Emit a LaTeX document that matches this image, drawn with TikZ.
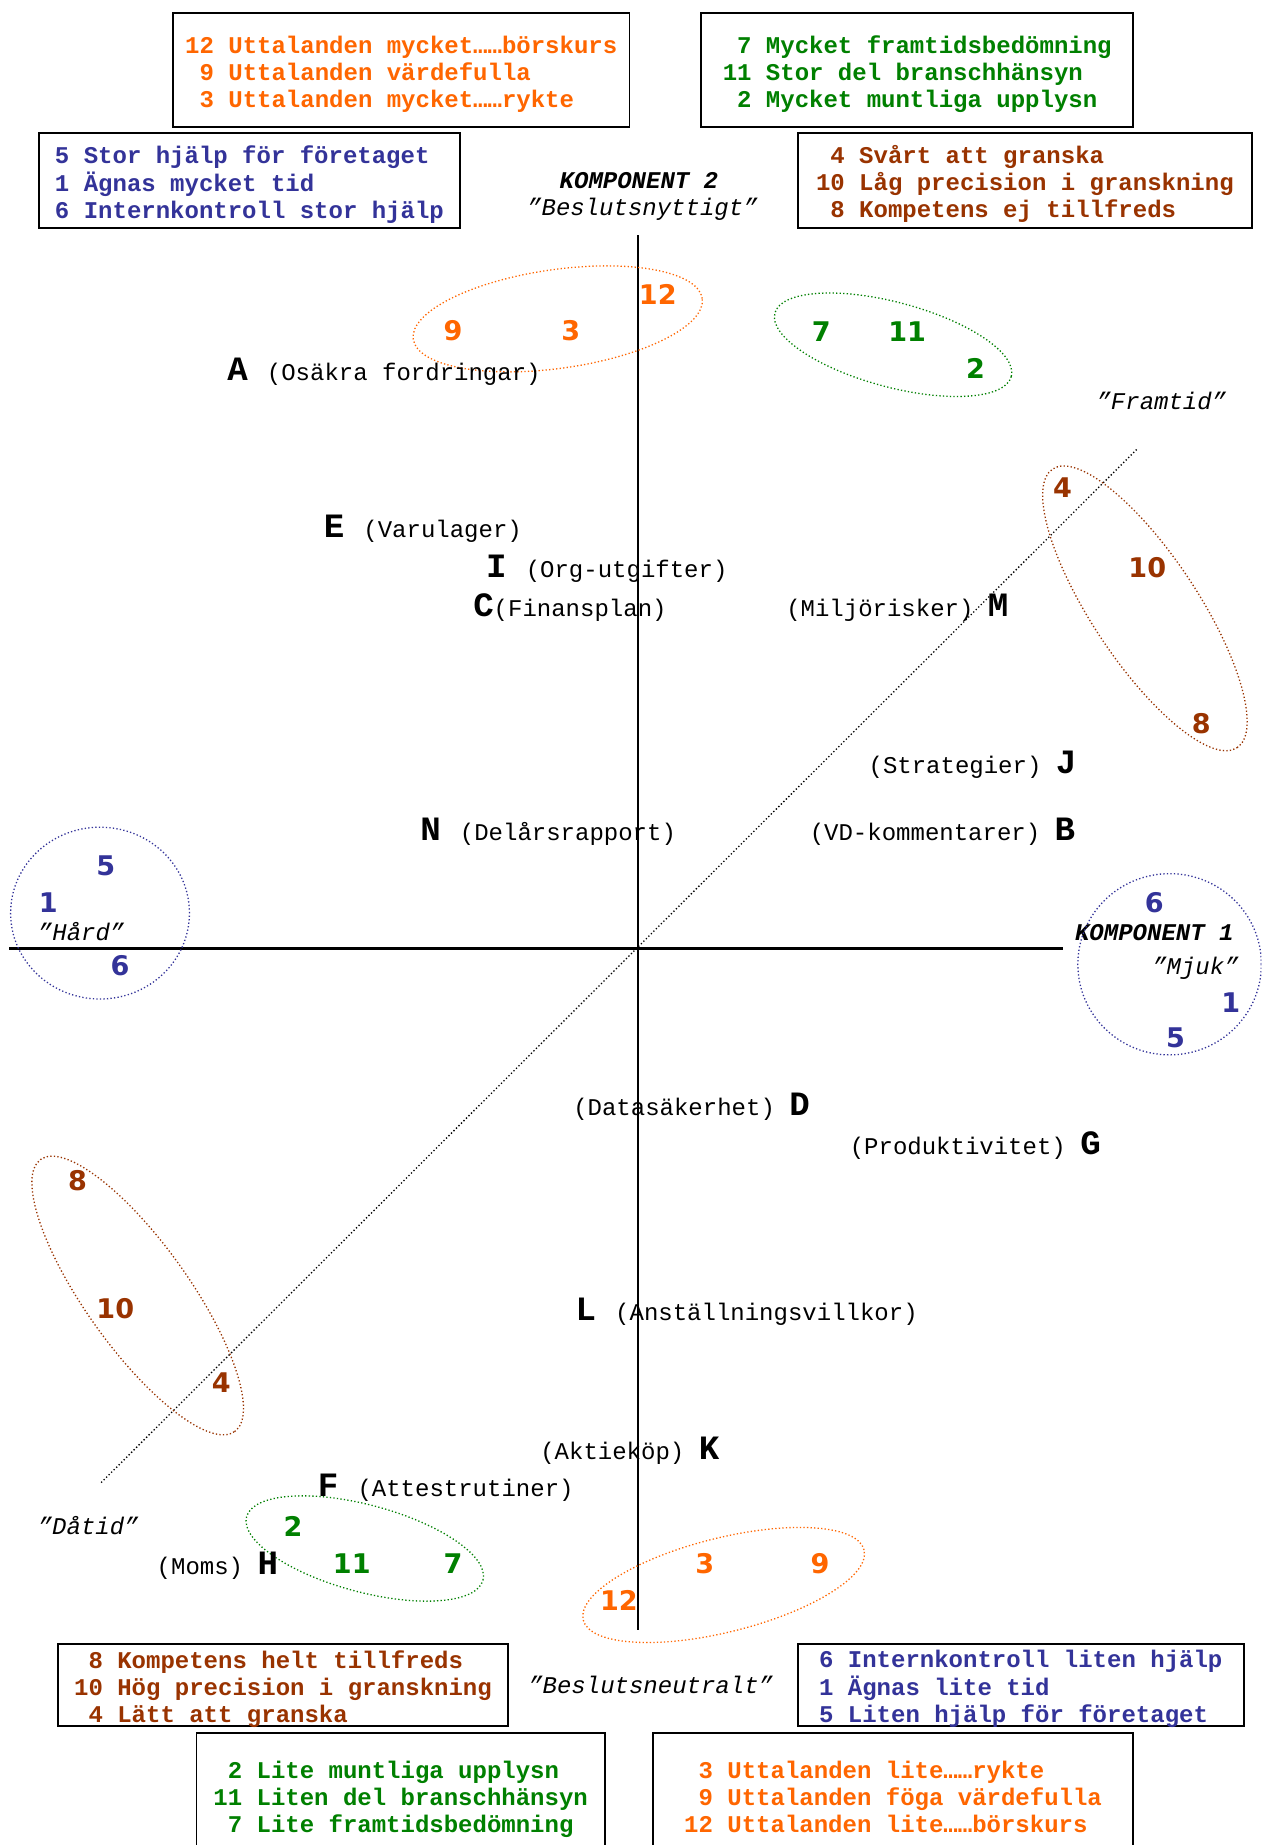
\documentclass[tikz,border=0pt]{standalone}
\usepackage{fontspec}
\setmonofont{Liberation Mono}
\newfontfamily\numfont{DejaVu Sans}

\definecolor{orng}{RGB}{255,102,0}
\definecolor{grn}{RGB}{0,128,0}
\definecolor{blu}{RGB}{51,51,153}
\definecolor{brn}{RGB}{153,51,0}

\newcommand\ltr[1]{{\fontsize{29}{29}\selectfont\bfseries #1}}
\newcommand\lft[1]{\ltr{#1}\hspace{4pt} }
\newcommand\legtab[1]{\raisebox{-4pt}[\height][\depth]{\begin{tabular}{@{}r@{ }l@{}}#1\end{tabular}}}

\tikzset{
  legend/.style={draw=black, line width=1.6pt, inner sep=0pt,
    font=\ttfamily\bfseries\fontsize{20.4}{23}\selectfont},
  lbl/.style={font=\ttfamily\fontsize{20.4}{23}\selectfont, inner sep=0pt, anchor=base west},
  axlbl/.style={font=\ttfamily\itshape\fontsize{20.4}{23}\selectfont, inner sep=0pt, anchor=base},
  num/.style={font=\numfont\bfseries\fontsize{23}{23}\selectfont, inner sep=0pt},
  grp/.style={line width=1.1pt, dash pattern=on 1.1pt off 1.9pt},
  axisline/.style={line width=2pt}
}

\begin{document}
\begin{tikzpicture}[x=1pt,y=-1pt]
  \useasboundingbox (0,0) rectangle (1072,1568);
  \clip (0,0) rectangle (1072,1568);
  \fill[white] (0,0) rectangle (1072,1568);

  % legend boxes
  \node[legend, text=orng, minimum width=388pt, minimum height=97pt] (orTop) at (341,59.5)
    {\legtab{12 & Uttalanden mycket……börskurs\\ 9 & Uttalanden värdefulla\\ 3 & Uttalanden mycket……rykte}};
  \node[legend, text=grn, minimum width=367pt, minimum height=97pt] (grTop) at (779.5,59.5)
    {\legtab{7 & Mycket framtidsbedömning\\ 11 & Stor del branschhänsyn\\ 2 & Mycket muntliga upplysn}};
  \node[legend, text=blu, minimum width=358pt, minimum height=81pt] (blTop) at (212,153.5)
    {\legtab{5 & Stor hjälp för företaget\\ 1 & Ägnas mycket tid\\ 6 & Internkontroll stor hjälp}};
  \node[legend, text=brn, minimum width=386pt, minimum height=81pt] (brTop) at (871,153.5)
    {\legtab{4 & Svårt att granska\\ 10 & Låg precision i granskning\\ 8 & Kompetens ej tillfreds}};
  \node[legend, text=brn, minimum width=383pt, minimum height=68pt] (brBot) at (240.5,1432)
    {\legtab{8 & Kompetens helt tillfreds\\ 10 & Hög precision i granskning\\ 4 & Lätt att granska}};
  \node[legend, text=blu, minimum width=379pt, minimum height=68pt] (blBot) at (867.5,1432)
    {\legtab{6 & Internkontroll liten hjälp\\ 1 & Ägnas lite tid\\ 5 & Liten hjälp för företaget}};
  \node[legend, text=grn, minimum width=347pt, minimum height=106pt] (grBot) at (340.5,1526)
    {\legtab{2 & Lite muntliga upplysn\\ 11 & Liten del branschhänsyn\\ 7 & Lite framtidsbedömning}};
  \node[legend, text=orng, minimum width=408pt, minimum height=106pt] (orBot) at (759,1526)
    {\legtab{3 & Uttalanden lite……rykte\\ 9 & Uttalanden föga värdefulla\\ 12 & Uttalanden lite……börskurs}};

  % axes
  \coordinate (ytop) at (542,200);
  \coordinate (ybot) at (542,1385);
  \coordinate (xleft) at (8,806);
  \coordinate (xright) at (903,806);
  \coordinate (past) at (86,1260);
  \coordinate (future) at (966,382);
  \draw[axisline] (ytop) -- (ybot);
  \draw[axisline] (xleft) -- (xright);
  \draw[grp, black] (past) -- (future);

  \node[axlbl, font=\ttfamily\bfseries\itshape\fontsize{20.4}{23}\selectfont] (k2) at (543,160) {KOMPONENT 2};
  \node[axlbl] (k2a) at (546,183) {”Beslutsnyttigt”};
  \node[axlbl] (k2b) at (553,1439) {”Beslutsneutralt”};
  \node[axlbl, font=\ttfamily\bfseries\itshape\fontsize{20.4}{23}\selectfont] (k1) at (981,799) {KOMPONENT 1};
  \node[axlbl] (k1a) at (1016,828) {”Mjuk”};
  \node[axlbl] (k1b) at (69,799) {”Hård”};
  \node[axlbl] (fut) at (987,348) {”Framtid”};
  \node[axlbl] (pst) at (75,1304) {”Dåtid”};

  % groups
  \draw[grp, draw=orng, rotate around={8:(474,271)}] (474,271) ellipse [x radius=124pt, y radius=42pt];
  \draw[grp, draw=grn, rotate around={-15:(759,293)}] (759,293) ellipse [x radius=104pt, y radius=36pt];
  \draw[grp, draw=brn, rotate around={-56.5:(973,517)}] (973,517) ellipse [x radius=142pt, y radius=45pt];
  \draw[grp, draw=blu] (85,776) ellipse [x radius=76pt, y radius=73pt];
  \draw[grp, draw=blu] (994,819.5) ellipse [x radius=78pt, y radius=77pt];
  \draw[grp, draw=brn, rotate around={-54.5:(117,1101)}] (117,1101) ellipse [x radius=142pt, y radius=44pt];
  \draw[grp, draw=grn, rotate around={-15:(310,1316)}] (310,1316) ellipse [x radius=104pt, y radius=37pt];
  \draw[grp, draw=orng, rotate around={14:(615,1347)}] (615,1347) ellipse [x radius=123pt, y radius=40pt];

  \foreach \nm/\x/\y/\c/\t in {
      ot9/385/281/orng/9, ot3/485/281/orng/3, ot12/559/250/orng/12,
      gt7/698/282/grn/7, gt11/771/282/grn/11, gt2/829/313/grn/2,
      rt4/903/414/brn/4, rt10/975/482/brn/10, rt8/1021/615/brn/8,
      bl5/90/736/blu/5, bl1/41/767/blu/1, bl6/102/821/blu/6,
      br6/981/767/blu/6, br1/1046/852/blu/1, br5/999/882/blu/5,
      rb8/66/1003/brn/8, rb10/98/1112/brn/10, rb4/188/1175/brn/4,
      gb2/249/1297/grn/2, gb11/299/1329/grn/11, gb7/385/1329/grn/7,
      ob12/526/1360/orng/12, ob3/599/1329/orng/3, ob9/697/1329/orng/9
    } {
      \node[num, text=\c] (\nm) at (\x,\y) {\t};
    }

  % items
  \foreach \id/\x/\y/\txt in {
      A/193/323/\lft{A}(Osäkra fordringar),
      E/275/457/\lft{E}(Varulager),
      I/413/491/\lft{I}(Org-utgifter),
      C/402/524/\ltr{C}(Finansplan),
      M/668/524/(Miljörisker) \ltr{M},
      J/738/657/(Strategier) \ltr{J},
      N/357/714/\lft{N}(Delårsrapport),
      B/688/714/(VD-kommentarer) \ltr{B},
      D/487/948/(Datasäkerhet) \ltr{D},
      G/722/981/(Produktivitet) \ltr{G},
      L/489/1122/\lft{L}(Anställningsvillkor),
      K/459/1240/(Aktieköp) \ltr{K},
      F/270/1272/\lft{F}(Attestrutiner),
      H/133/1338/(Moms) \ltr{H}
    } {
      \node[lbl] (\id) at (\x,\y) {\txt};
    }
\end{tikzpicture}
\end{document}
